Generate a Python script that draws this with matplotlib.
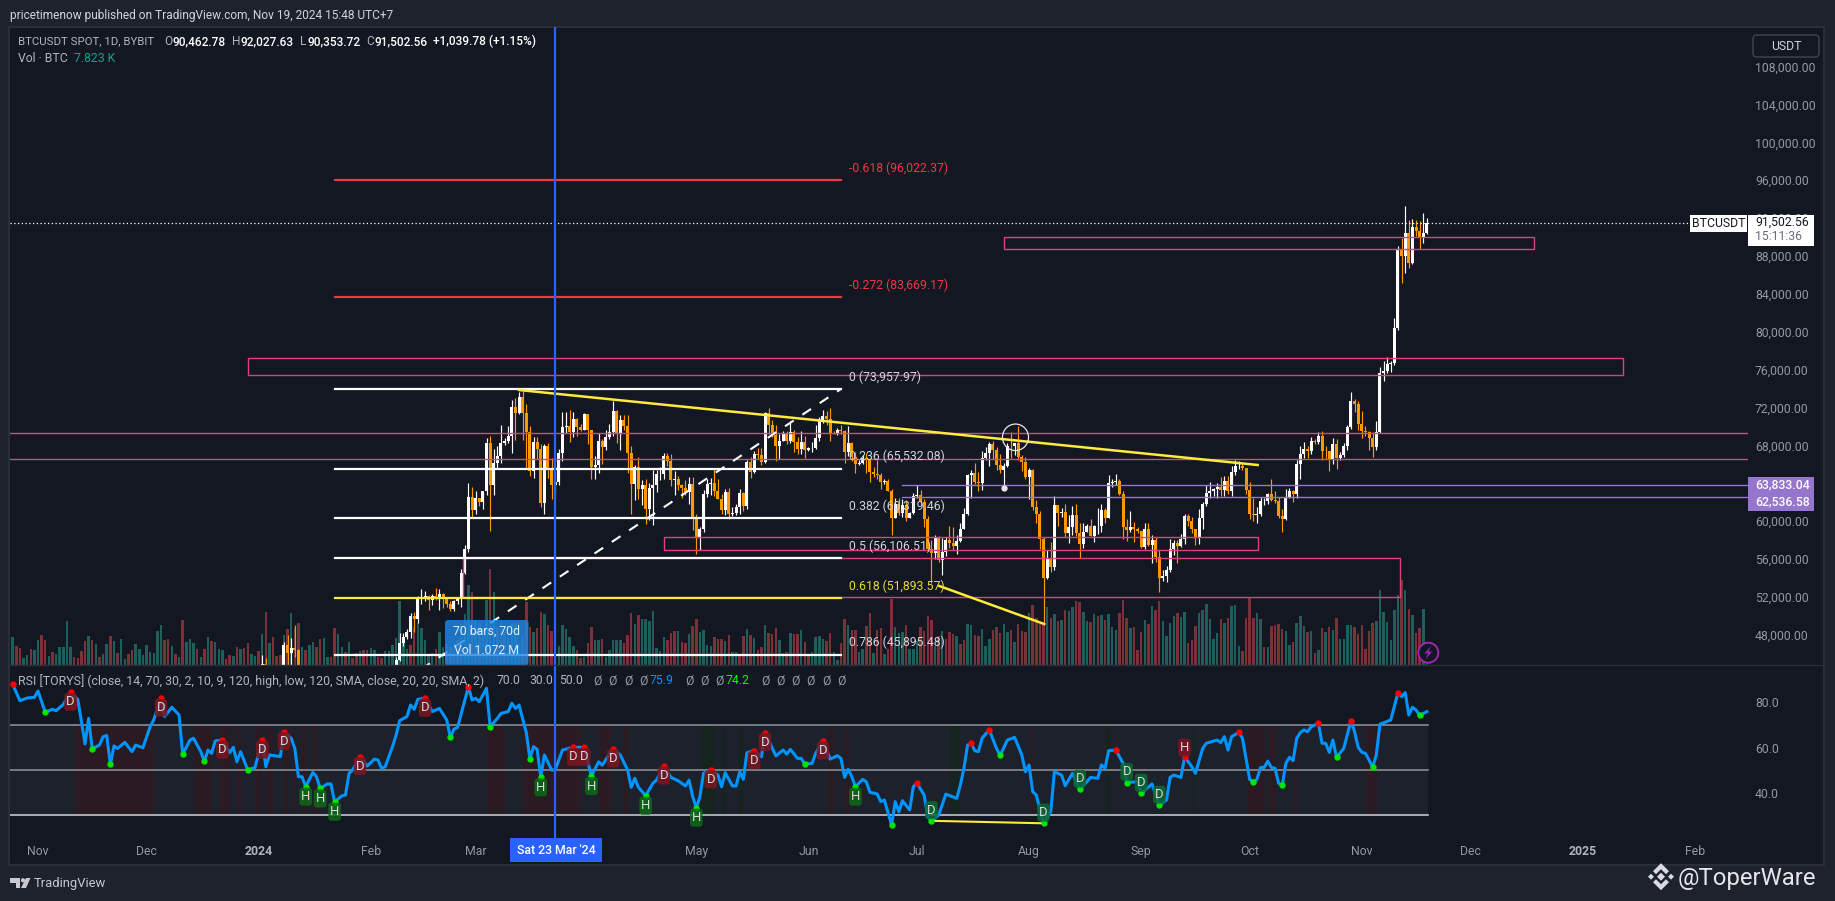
import matplotlib
matplotlib.use("Agg")
import numpy as np
import matplotlib.pyplot as plt
from matplotlib.patches import Rectangle, Ellipse, Circle, Polygon, FancyBboxPatch

W, H = 1835, 901

BG_OUT = '#1e222d'
BG = '#131722'
BORDER = '#2a2e39'
GREY = '#9598a1'
LIGHT = '#d1d4dc'
ORANGE = '#ff9800'
PINK = '#e0407a'
PINK2 = '#c9507c'
PURPLE = '#9575cd'
YELLOW = '#ffeb3b'

# days are counted from 1 Nov 2023
month_days = [0, 30, 61, 92, 121, 182, 213, 243, 274, 305, 335, 366, 396, 427, 458]
month_labels = ['Nov', 'Dec', '2024', 'Feb', 'Mar', 'May', 'Jun', 'Jul', 'Aug', 'Sep', 'Oct', 'Nov', 'Dec', '2025', 'Feb']
price_ticks = [48000, 52000, 56000, 60000, 68000, 72000, 76000, 80000, 84000, 88000, 92000, 96000, 100000, 104000, 108000]

# 2 Jan - 12 Jan 2024, only the tops stick out of the pane
jan_first_day = 62
jan_open = [44200, 44950, 42850, 44150, 44150, 43950, 43940, 46950, 46120, 46650, 46340]
jan_high = [45900, 45500, 44750, 44300, 44300, 44450, 47200, 47990, 47700, 49000, 46500]
jan_low = [44150, 40750, 42600, 42650, 43600, 43400, 43200, 44300, 44350, 45600, 41500]
jan_close = [44950, 42850, 44150, 44150, 43950, 43940, 46950, 46120, 46650, 46340, 42780]

# 8 Feb - 19 Nov 2024
first_day = 99
first_open = 44340
close = [
    45290, 47130, 47760, 48290, 49940, 49700, 51800, 51930, 52130, 51640, 52130, 51780, 52260, 51850, 51300, 50740,
    51570, 51730, 54480, 57040, 62500, 61170,
    62430, 62030, 63170, 68300, 63800, 66100, 66900, 68300, 68500, 69000, 72100, 71470, 73100, 71400, 69400, 65300,
    68400, 67600, 61900, 67900, 65500, 63800, 64100, 67200, 69950, 70000, 69450, 70780, 69900, 69650, 71300,
    69650, 65700, 65950, 68500, 67850, 68900, 69360, 71630, 69150, 70630, 70000, 67150, 63900, 65700, 63420, 63800,
    61280, 63470, 63820, 64940, 64940, 66840, 66400, 64300, 64500, 63780, 63460, 63120, 63870, 60320,
    58250, 59130, 62890, 63890, 64030, 63160, 62330, 61190, 63070, 60790, 60820, 61480, 62940, 61580, 66220, 65230,
    67050, 66940, 66270, 71450, 70140, 69120, 67930, 68510, 69290, 68510, 69390, 68360, 67630, 68350, 67490,
    67700, 67750, 68800, 70560, 71080, 70790, 69350, 69300, 69650, 69500, 67320, 68240, 66750, 66010, 66190, 66640,
    66490, 65150, 64960, 64830, 64100, 64250, 63180, 60280, 61800, 60860, 61670, 60310, 60900, 62670,
    62750, 62020, 60180, 57040, 56640, 58230, 55850, 56700, 58040, 57720, 57340, 57900, 59220, 60790, 64870, 65100,
    64090, 63980, 66700, 67150, 68160, 67560, 65930, 65370, 65780, 67910, 67900, 68250, 66800, 66200, 64620,
    65350, 61500, 60700, 58100, 53990, 56030, 55120, 61700, 60880, 60940, 58710, 59350, 60600, 58740, 57560, 58870,
    59490, 58440, 59480, 59490, 61170, 60380, 64050, 64160, 64220, 62830, 59420, 59030, 59370, 59120, 58970,
    57320, 59130, 57480, 57970, 56160, 53950, 54160, 54870, 57050, 57650, 57340, 58130, 60540, 60000, 59130, 58210,
    60310, 61760, 62950, 63200, 63350, 63580, 63330, 64260, 63140, 65180, 65780, 65860, 65600, 63330,
    60800, 60650, 60750, 62080, 62090, 62820, 62220, 62130, 60580, 60270, 62450, 63200, 62850, 66050, 67040, 67610,
    67370, 68420, 68360, 69000, 67370, 67360, 66430, 68170, 66640, 67010, 67930, 69910, 72730, 72340, 70290,
    69500, 69370, 68770, 67800, 69360, 75640, 75900, 76540, 76700, 80370, 88650, 87950, 90380, 87250, 91050, 90590,
    89850, 90460, 91502]
high = [
    45600, 48200, 48170, 48600, 50300, 50370, 52050, 52820, 52570, 52180, 52350, 52950, 52880, 52370, 52000, 51540,
    51700, 51950, 54900, 57500, 64000, 63650,
    63200, 62400, 63200, 68800, 69000, 67600, 67950, 70150, 68800, 70000, 72800, 73000, 73650, 73750, 72400, 70000,
    68900, 68900, 68100, 68100, 68200, 66700, 65900, 67600, 71500, 71500, 71700, 71500, 70900, 70300, 71400,
    71300, 69650, 66900, 69300, 68700, 69600, 70300, 72700, 71700, 71200, 71200, 71200, 67900, 65900, 66800, 64300,
    64500, 64000, 65400, 65400, 65700, 67200, 67200, 67100, 65300, 64800, 63900, 64300, 64700, 64700,
    60800, 59400, 63300, 64500, 64600, 65500, 64400, 62900, 63400, 63450, 61500, 61800, 63400, 63100, 66450, 66800,
    67400, 67700, 67700, 71500, 71950, 70650, 70200, 69200, 69500, 69500, 70600, 69600, 68900, 69500, 69000,
    67850, 68400, 70200, 71000, 71750, 71600, 71950, 69550, 69850, 70200, 69600, 70000, 68400, 67300, 66500, 66950,
    67200, 66600, 65700, 66500, 65100, 64500, 64500, 63400, 62400, 62450, 62300, 62200, 61000, 63000,
    63800, 63300, 62300, 60500, 58000, 58500, 58400, 58200, 58300, 59500, 59400, 58500, 59800, 61400, 65000, 65400,
    66100, 65200, 67400, 67800, 68400, 68500, 67800, 67100, 66100, 68300, 69400, 68300, 70000, 67000, 66800,
    65600, 65500, 62200, 61100, 58300, 57000, 57800, 62700, 61700, 61400, 61800, 60600, 61600, 61800, 59800, 59800,
    59700, 60200, 59600, 61400, 61800, 61400, 64900, 64500, 65000, 64500, 63200, 60200, 61100, 59900, 59400,
    59000, 59800, 59800, 58500, 58300, 56900, 54800, 55300, 58100, 58000, 58000, 58600, 60700, 60700, 60400, 59200,
    61300, 62000, 63800, 64100, 63500, 64000, 64700, 64800, 64800, 65800, 66500, 66300, 66100, 65600,
    64100, 62400, 61500, 62500, 62400, 63000, 64500, 63200, 62500, 61300, 63400, 63500, 63300, 66500, 67900, 68400,
    67900, 68900, 68700, 69400, 69500, 67900, 67400, 68800, 68700, 67300, 68300, 70200, 73600, 72900, 72700,
    71600, 70000, 69500, 69400, 70600, 76300, 76900, 77300, 76900, 81400, 89000, 89900, 93230, 91800, 91900, 91800,
    91700, 92500, 92030]
low = [
    44330, 45240, 46800, 47550, 47700, 48300, 49250, 51300, 51600, 50650, 51170, 51680, 50650, 50800, 50900, 50500,
    50550, 51300, 50900, 54450, 56700, 60400,
    60800, 61650, 61300, 62800, 59000, 62800, 65600, 66100, 68000, 68200, 67200, 68600, 71300, 68600, 65600, 64800,
    64550, 66550, 61500, 60800, 64600, 62300, 63000, 63800, 66400, 69300, 68400, 68900, 69000, 69500, 69600,
    68100, 64500, 64500, 65100, 66000, 67500, 68700, 69000, 68200, 67500, 69600, 65100, 60700, 62200, 62300, 61700,
    59700, 60100, 59600, 63100, 64300, 64500, 65800, 63700, 62800, 63300, 62400, 62800, 61800, 59100,
    56500, 56900, 58800, 62600, 62800, 62700, 62300, 60800, 60600, 60200, 60500, 60600, 60700, 61100, 61300, 64600,
    65100, 66600, 65900, 66100, 69200, 68900, 66300, 66600, 68500, 68100, 68200, 67300, 67100, 67100, 66700,
    67400, 67300, 67600, 68500, 70400, 70200, 68500, 69200, 69100, 69200, 66100, 66900, 66300, 65100, 65900, 66000,
    65100, 64100, 64700, 64500, 63400, 63900, 63200, 58500, 60300, 60600, 60400, 60000, 60300, 60700,
    62400, 61800, 59400, 56800, 53500, 56000, 55700, 54300, 56300, 57200, 56900, 56500, 57750, 59200, 60650, 62400,
    63900, 63200, 63300, 66500, 65800, 66600, 65400, 65100, 63400, 65700, 66700, 67000, 66500, 65300, 64500,
    62300, 61200, 59800, 57100, 49000, 53900, 54600, 54800, 59500, 60400, 58300, 57700, 58500, 58400, 56100, 57200,
    58800, 58400, 57800, 58600, 58800, 59800, 60300, 63600, 63800, 62800, 58100, 57900, 58800, 57800, 58700,
    57200, 57100, 57400, 55600, 55700, 52500, 53700, 53600, 54600, 56400, 55600, 57300, 57600, 59500, 58700, 57500,
    57600, 59200, 61600, 62400, 62700, 62400, 62700, 62700, 62900, 62700, 64900, 65500, 65400, 62900,
    60200, 60000, 59800, 60500, 61700, 61800, 62100, 61900, 60300, 58900, 60100, 62400, 62000, 62400, 64500, 66700,
    66700, 67100, 68100, 68100, 66500, 66600, 65300, 66000, 65500, 66500, 66800, 67500, 69700, 71500, 69600,
    68800, 69000, 67500, 66800, 67500, 69300, 74800, 75600, 75800, 76500, 80200, 85100, 86200, 86700, 87100, 90100,
    88700, 89400, 90350]

# volume heights, negative = down day
vol_first_day = -8
volumes = [
    140, 83, -57, -50, 20, 30, -47, 45, 75, -90, -75, 27, -38, 32, 54, 54, 132, 54, -24, -21, -42, -72, 87, -75, 63,
    -24, 33, 63, -87, 72, -36, 78, 18, -33, -45, 63, 48, 30, 60, 39, 36, 102, 120, -75, -78, 57, -33, 24, -135, 69,
    78, 66, -48, 24, -48, 84, -72, 69, 48, 45, -18, -30, 27, -54, 48, -51, -66, 33, 27, -42, 93, -159, 66, -84, -27,
    -30, 90, -108, 156, -111, -126, 54, -45, 60, 69, -54, -78, 81, 24, -24, -111, 93, 54, -39, 69, -21, -35, 42, -45,
    -45, 51, 45, -24, -21, 42, 42, 60, 80, 192, 75, 48, -60, -115, 125, 110, 75, 30, 35, -48, 100, 55, -63, -55, 65,
    -75, 125, 152, 240, -218, 135, -125, 110, 195, -287, 218, -115, 125, -100, 80, 125, 125, 70, -90, -190, -115, 100,
    -110, -160, 153, -120, -103, 40, 57, 120, 108, 85, 57, -45, -22, 25, -65, -114, 75, 74, -78, 25, 45, 75, 75, 75,
    -65, -90, -156, 123, -150, 138, 137, 131, 162, 52, 42, 83, -75, -96, -102, 102, -69, -66, 94, -117, -138, 99, 105,
    60, 57, -84, -78, -78, 72, -90, 39, 39, -33, -87, 108, -90, 81, -45, -53, 120, -96, -93, -111, 75, 36, -39, 96,
    -93, -93, 105, -69, -27, 39, 84, 87, 78, -72, -96, 39, 15, -65, -138, 120, -105, -105, 39, 48, -117, -156, 36,
    -105, -111, 33, -48, -198, 114, 96, 99, -120, 48, 48, 72, -115, -102, -147, -135, 57, -87, 102, -78, -99, -93, 87,
    -63, -75, 123, 120, -90, -87, 108, 57, 78, -105,
    -114, -96, 123, 99, -105, 69, -123, -102, -99, 156, -180, -141, -129, -125, 174, -141, 153, -132, 135, -165, 162,
    174, -192, -189, 159, 132, -129, 153, -147, 150, -135, 153, 114, 105, -156, -195, -141, 111, -114, -45, -99, 135,
    -123, 177, -165, -192, 132, 87, 126, 147, -156, 144, 159, -66, -75, -117, 156, 165, 183, 138, 78, 96, -138, 126,
    -141, 177, 180, 57, -42, -141, -201, -141, 156, 138, -54, 54, -117, -120, -123, -108, 102, 60, -69, 126, 147, 117,
    -99, 102, -36, 45, -111, 99, -114, 105, -141, 78, 78, 120, 120, -114, -93, -120, -48, -102, -126, 132, 225, 159,
    129, 75, 165, 210, -255, 225, -168, 150, -96, -111, 168, 55]

rsi_days = [
    -7, -5, -3, -1, 0, 2, 4, 5, 7, 9, 11, 13, 14, 15, 17, 18, 19, 20, 21, 22, 24, 26, 27, 29, 31, 32, 34, 35, 37, 39,
    40, 42, 43, 45, 46, 47, 48, 49, 51, 53, 54, 55, 56, 58, 60, 62, 63, 64, 67, 68, 70, 71, 72, 73, 74, 76, 77, 78,
    80, 81, 82, 84, 85, 86, 87, 89, 91, 93, 94, 95, 96, 98, 99, 100, 102, 103, 104, 105, 107, 109, 111, 113, 114, 115,
    116, 119, 120, 121, 122, 124, 125, 127, 128, 130, 131, 132, 133, 135, 136, 137, 138, 139, 140, 142, 143, 145, 148,
    151, 153, 155, 156, 159, 161, 163, 164, 165, 166, 168, 170, 171, 173, 175, 177, 179, 180, 181, 182, 183, 184, 186,
    188, 189, 190, 192, 193, 194, 195, 196, 198, 200, 201, 204, 206, 207, 208, 210, 211, 212, 214, 215, 217, 219, 221,
    222, 223, 224, 225, 226, 228, 229, 230, 232, 233, 234, 236, 237, 238, 239, 241, 242, 243, 245, 246, 247, 249, 251,
    254, 255, 256, 257, 258, 259, 260, 261, 263, 265, 266, 268, 270, 272, 273, 274, 275, 276, 278, 280, 281, 283, 284,
    286, 288, 290, 291, 293, 294, 295, 296, 298, 300, 301, 304, 305, 308, 310, 312, 313, 314, 316, 317, 319, 320, 322,
    323, 326, 327, 328, 329, 330, 332, 333, 335, 336, 337, 338, 339, 340, 341, 342, 343, 344, 345, 346, 347, 348, 349,
    350, 351, 352, 354, 355, 356, 357, 358, 359, 361, 363, 364, 365, 366, 367, 368, 369, 370, 371, 374, 376, 377, 378,
    379, 380, 381, 382, 384]
rsi_vals = [
    88.0, 80.7, 81.9, 82.2, 85.0, 75.6, 76.9, 76.3, 79.1, 84.4, 81.3, 61.6, 72.9, 59.4, 61.1, 64.8, 65.3, 52.6, 60.7,
    59.6, 62.3, 58.2, 61.1, 59.9, 69.2, 72.2, 81.8, 73.7, 77.8, 74.4, 57.0, 63.3, 64.1, 58.2, 53.9, 58.9, 57.4, 62.9,
    63.3, 57.7, 60.1, 53.7, 58.2, 50.1, 51.2, 63.3, 51.5, 56.7, 56.0, 67.0, 64.1, 59.6, 47.1, 47.1, 42.7, 49.0, 47.1,
    41.9, 43.9, 43.9, 36.0, 38.6, 39.0, 48.6, 50.1, 56.0, 51.8, 54.9, 54.5, 50.8, 51.5, 60.4, 65.5, 71.9, 73.7, 78.8,
    76.9, 81.3, 81.8, 75.9, 77.3, 72.2, 64.5, 68.1, 68.9, 86.9, 81.0, 81.8, 80.3, 86.2, 69.2, 72.9, 75.1, 75.9, 79.6,
    77.3, 78.8, 66.6, 54.9, 60.4, 59.2, 46.8, 56.7, 50.1, 50.1, 58.9, 60.1, 60.1, 47.4, 53.7, 52.2, 59.4, 56.7, 50.1,
    42.4, 46.4, 42.4, 38.7, 44.2, 45.6, 51.8, 46.8, 45.3, 43.0, 45.6, 38.3, 33.4, 38.3, 48.6, 50.1, 47.8, 42.7, 48.9,
    43.0, 43.0, 49.3, 45.9, 57.7, 58.6, 55.9, 66.6, 56.3, 58.9, 57.1, 59.2, 55.2, 55.2, 52.7, 53.0, 57.4, 62.9, 54.9,
    56.4, 55.2, 46.8, 50.4, 47.1, 42.7, 45.9, 44.9, 40.2, 39.5, 36.1, 36.8, 25.7, 36.1, 31.6, 36.5, 32.4, 42.7, 44.2,
    39.0, 29.4, 27.6, 30.1, 39.4, 37.5, 43.4, 50.8, 61.1, 61.9, 58.6, 58.2, 64.1, 67.8, 59.6, 56.5, 63.3, 64.5, 56.7,
    49.3, 52.3, 40.5, 39.0, 26.5, 31.6, 49.3, 47.8, 43.1, 48.6, 41.5, 44.9, 46.8, 46.4, 52.3, 50.8, 58.6, 58.9, 53.0,
    44.5, 44.9, 39.7, 43.9, 34.4, 36.8, 46.8, 47.8, 46.8, 56.0, 51.5, 48.6, 59.6, 61.9, 63.3, 62.2, 64.8, 58.9, 64.8,
    66.7, 64.1, 45.9, 44.9, 45.9, 51.2, 51.2, 54.0, 51.2, 50.8, 44.2, 43.3, 53.0, 55.7, 54.2, 64.1, 66.6, 67.8, 67.0,
    69.2, 70.7, 61.9, 61.9, 57.9, 63.3, 55.7, 59.6, 71.9, 67.0, 60.1, 57.9, 57.4, 54.5, 51.2, 56.7, 70.3, 72.2, 84.3,
    82.5, 84.3, 74.4, 77.8, 76.6, 74.2, 75.9]

red_dot_days = [-7, 9, 34, 51, 62, 68, 89, 107, 119, 148, 151, 159, 173, 186, 198, 201, 217, 243, 258, 263, 298, 317, 332, 354, 363, 376]
green_dot_days = [2, 15, 20, 40, 46, 58, 74, 78, 82, 114, 125, 136, 139, 153, 168, 182, 212, 226, 236, 247, 266, 278, 288, 301, 305, 310, 336, 344, 359, 369, 382]
bear_d_days = [9, 34, 51, 62, 68, 89, 107, 148, 151, 159, 173, 186, 198, 201, 217]
bear_h_days = [317]
bull_h_days = [74, 78, 82, 139, 153, 168, 182, 226]
bull_d_days = [247, 278, 288, 301, 305, 310]

red_stripes = [(10.3, 32), (43, 48), (50, 53), (55, 56), (60, 62), (63, 65), (68, 69), (70.6, 71.3), (73, 74), (76, 77),
               (124, 129), (134, 150), (155, 158.4), (162, 163), (218.3, 220), (223.2, 224.1), (274.3, 275),
               (334.4, 339.3), (340.2, 342.1), (347.3, 348), (367.2, 370.2)]
green_stripes = [(183.3, 187.1), (189, 190), (193.7, 195), (252.2, 255), (295.4, 296.5), (319.4, 320)]

fib_start, fib_end = 82, 222
fib_levels = [96022.37, 83669.17, 73957.97, 65532.08, 60319.46, 56106.51, 51893.57, 45895.48]
fib_labels = ['-0.618 (96,022.37)', '-0.272 (83,669.17)', '0 (73,957.97)', '0.236 (65,532.08)', '0.382 (60,319.46)',
              '0.5 (56,106.51)', '0.618 (51,893.57)', '0.786 (45,895.48)']
fib_colors = ['#f23645', '#f23645', '#ffffff', '#ffffff', '#ffffff', '#ffffff', YELLOW, '#ffffff']
fib_text_colors = ['#f23645', '#f23645', LIGHT, LIGHT, LIGHT, LIGHT, '#e8d93a', LIGHT]
fib_one = 38252.0

# left day, right day, top price, bottom price
boxes = [(267, 413.6, 89971, 88704), (58, 438.3, 77194, 75399), (173.2, 337.4, 58292, 56919), (117.4, 376.5, 56074, 52019)]
zone_prices = [69275, 66529]
purple_prices = [63833.04, 62536.58]
purple_start = 239
cursor_day = 143
last_price = 91502.56

plt.rcParams['font.family'] = ['Roboto', 'DejaVu Sans']

fig = plt.figure(figsize=(W / 100, H / 100), dpi=100, facecolor=BG_OUT)


def pane(x0, y0, x1, y1, **kw):
    return fig.add_axes([x0 / W, 1 - y1 / H, (x1 - x0) / W, (y1 - y0) / H], **kw)


def day_of(px):
    return (px - 38) / 3.617


def price_of(py):
    return 96022 - (py - 180) / 0.00947


# background panel
under = pane(0, 0, W, H, zorder=-1)
under.set_xlim(0, W)
under.set_ylim(H, 0)
under.axis('off')
under.add_patch(Rectangle((9, 27), 1815, 838, fc=BG, ec=BORDER, lw=1.5))

ax = pane(10, 27, 1748, 665, zorder=1, facecolor='none')
ax.set_xlim(day_of(10), day_of(1748))
ax.set_ylim(price_of(665), price_of(27))
ax.set_xticks([])
for s in ax.spines.values():
    s.set_visible(False)

# volume shares the price pane
ax_vol = ax.twinx()
ax_vol.set_ylim(0, 638 * 3)
ax_vol.axis('off')
ax_vol.set_zorder(0)
ax.set_zorder(1)
ax.patch.set_visible(False)
vol = np.array(volumes)
vol_x = np.arange(len(vol)) + vol_first_day
ax_vol.bar(vol_x, np.abs(vol), width=0.68, color=np.where(vol > 0, '#1f5f5b', '#7a3238'), linewidth=0)

ax.yaxis.tick_right()
ax.set_yticks(price_ticks)
ax.set_yticklabels(['{:,.2f}'.format(p) for p in price_ticks])
ax.tick_params(axis='y', length=0, pad=5, labelsize=8.8, labelcolor=GREY)

# candles
close = np.array(close, dtype=float)
open_ = np.concatenate([[first_open], close[:-1]])
high = np.array(high, dtype=float)
low = np.array(low, dtype=float)
cx = np.arange(len(close)) + first_day
all_x = np.concatenate([np.arange(len(jan_close)) + jan_first_day, cx])
all_o = np.concatenate([jan_open, open_])
all_c = np.concatenate([jan_close, close])
all_h = np.concatenate([jan_high, high])
all_l = np.concatenate([jan_low, low])
cols = np.where(all_c >= all_o, '#ffffff', ORANGE)
ax.vlines(all_x, all_l, all_h, colors=cols, lw=0.85, zorder=2)
ax.bar(all_x, np.abs(all_c - all_o), bottom=np.minimum(all_c, all_o), width=0.83, color=cols, linewidth=0, zorder=2.1)

# zones and boxes
for d0, d1, t, b in boxes:
    ax.add_patch(Rectangle((d0, b), d1 - d0, t - b, fc='none', ec=PINK, lw=1.0, zorder=2.5))
for p in zone_prices:
    ax.plot([day_of(10), day_of(1748)], [p, p], color=PINK2, lw=1.0, zorder=2.5)
for p in purple_prices:
    ax.plot([purple_start, day_of(1748)], [p, p], color=PURPLE, lw=1.0, zorder=2.5)

# fib retracement
ax.plot([fib_start, fib_end], [fib_one, fib_levels[2]], color='#ffffff', lw=1.5, ls=(0, (5, 5)), zorder=3)
for p, lab, c, tc in zip(fib_levels, fib_labels, fib_colors, fib_text_colors):
    ax.plot([fib_start, fib_end], [p, p], color=c, lw=1.6, zorder=3)
    ax.annotate(lab, (fib_end, p), xytext=(5.5, 8.6), textcoords='offset points', color=tc, fontsize=8.8, va='center', zorder=4)

# trend lines
ax.plot([133, 337.2], [73847, 65927], color=YELLOW, lw=1.8, zorder=3.5)
ax.plot([249.2, 278.2], [53150, 49136], color=YELLOW, lw=1.8, zorder=3.5)
ax.add_patch(Ellipse((270.25, 68852), 7.2, 2800, fc='none', ec='#e8e8e8', lw=0.9, zorder=3.6))
ax.plot([267], [63466], 'o', color='#e8e8e8', ms=3.5, zorder=3.6)

ax.plot([day_of(10), day_of(1690)], [last_price, last_price], color='#ffffff', lw=0.9, ls=(0, (1, 2)), zorder=3)
ax.axvline(cursor_day, color='#2962ff', lw=1.6, zorder=5)

# RSI pane
ax_r = pane(10, 665, 1748, 838, zorder=2, facecolor='none')
ax_r.set_xlim(day_of(10), day_of(1748))
ax_r.set_ylim(20.0, 96.5)
for s in ax_r.spines.values():
    s.set_visible(False)
ax_r.yaxis.tick_right()
ax_r.set_yticks([40, 60, 80])
ax_r.set_yticklabels(['40.0', '60.0', '80.0'])
ax_r.set_xticks(month_days)
ax_r.set_xticklabels(month_labels)
ax_r.tick_params(axis='y', length=0, pad=5, labelsize=8.8, labelcolor=GREY)
ax_r.tick_params(axis='x', length=0, pad=5, labelsize=8.8, labelcolor=GREY)
for t in ax_r.get_xticklabels():
    if t.get_text() in ('2024', '2025'):
        t.set_color('#b2b5be')
        t.set_fontweight('bold')

band_x = [day_of(10), 384.3]
ax_r.fill_between(band_x, 30, 70, color='#1d212c', lw=0, zorder=1)
for a, b in red_stripes:
    ax_r.fill_between([a, b], 30, 70, color='#2a1a22', lw=0, zorder=1.1)
for a, b in green_stripes:
    ax_r.fill_between([a, b], 30, 70, color='#16241f', lw=0, zorder=1.1)
for lv, c in ((70, '#8a8c92'), (50, '#8a8c92'), (30, '#c4c6cc')):
    ax_r.plot(band_x, [lv, lv], color=c, lw=1.2, zorder=1.2)

ax_r.plot(rsi_days, rsi_vals, color='#0094ff', lw=2.2, solid_joinstyle='round', zorder=3)
rsi_at = dict(zip(rsi_days, rsi_vals))
ax_r.plot(red_dot_days, [rsi_at[d] for d in red_dot_days], 'o', color='#ff0000', ms=3.6, zorder=4)
ax_r.plot(green_dot_days, [rsi_at[d] for d in green_dot_days], 'o', color='#00e600', ms=3.6, zorder=4)
ax_r.plot([247, 278], [rsi_at[247], rsi_at[278]], color=YELLOW, lw=1.5, zorder=3.5)
ax_r.axvline(cursor_day, color='#2962ff', lw=1.6, zorder=5)

# chrome on top, in pixels
top = pane(0, 0, W, H, zorder=10, facecolor='none')
top.set_xlim(0, W)
top.set_ylim(H, 0)
top.axis('off')


def txt(x, y, s, c=LIGHT, size=8.8, **kw):
    kw.setdefault('va', 'center')
    top.text(x, y, s, color=c, fontsize=size, **kw)


def tag(days, label, fc, dy):
    # dy is pixels below the dot
    for d in days:
        px, py = ax_r.transData.transform((d, rsi_at[d]))
        py = H - py + dy
        top.add_patch(FancyBboxPatch((px - 6.3, py - 9), 12.6, 18, boxstyle='round,pad=0,rounding_size=3',
                                     fc=fc, ec='none', alpha=0.85))
        top.text(px, py, label, color='#d8d8d8', fontsize=9.4, ha='center', va='center')


tag(bear_d_days, 'D', '#7b1620', 9.5)
tag(bear_h_days, 'H', '#7b1620', -9)
tag(bull_h_days, 'H', '#0d6a16', 10)
tag(bull_d_days, 'D', '#0b6b33', -10.7)

txt(10, 15, 'pricetimenow published on TradingView.com, Nov 19, 2024 15:48 UTC+7', LIGHT, 8.6)
txt(18, 41.7, 'BTCUSDT SPOT, 1D, BYBIT', '#b2b5be', 8.2)
for x, s, c, w in ((164, 'O', '#b2b5be', 'normal'), (172, '90,462.78', '#ffffff', 'medium'),
                   (232, 'H', '#b2b5be', 'normal'), (240, '92,027.63', '#ffffff', 'medium'),
                   (300, 'L', '#b2b5be', 'normal'), (307, '90,353.72', '#ffffff', 'medium'),
                   (366, 'C', '#b2b5be', 'normal'), (374, '91,502.56', '#ffffff', 'medium'),
                   (433, '+1,039.78 (+1.15%)', '#ffffff', 'medium')):
    txt(x, 41.7, s, c, 8.6, fontweight=w)
txt(18, 58.7, 'Vol · BTC', '#b2b5be')
txt(74, 58.7, '7.823 K', '#1f9d8f')

txt(18, 681, 'RSI [TORYS] (close, 14, 70, 30, 2, 10, 9, 120, high, low, 120, SMA, close, 20, 20, SMA, 2)', '#b2b5be', 8.95)
for x, s in ((497, '70.0'), (529, '30.0'), (559, '50.0')):
    txt(x, 681, s, '#b2b5be')
for x in (593, 608, 624, 639, 685, 700, 715, 761, 776, 791, 806, 822, 837):
    txt(x, 681, 'Ø', GREY)
txt(650, 681, '75.9', '#0094ff')
txt(726, 681, '74.2', '#00ff00')

# USDT button
top.add_patch(FancyBboxPatch((1753, 35), 66, 22, boxstyle='round,pad=0,rounding_size=4', fc=BG, ec='#434651', lw=1))
txt(1786, 46, 'USDT', LIGHT, ha='center')

# last price tags
top.add_patch(Rectangle((1690, 215), 57, 16.7, fc='#ffffff', ec='none'))
txt(1718.5, 223.5, 'BTCUSDT', '#131722', ha='center')
top.add_patch(Rectangle((1748, 215), 65.6, 30.7, fc='#ffffff', ec='none'))
txt(1755, 222.5, '91,502.56', '#131722')
txt(1755, 237, '15:11:36', '#6a6d78')

# purple tags
top.add_patch(Rectangle((1748, 476.7), 65.6, 34, fc=PURPLE, ec='none'))
txt(1755, 485, '63,833.04', '#ffffff', fontweight='medium')
txt(1755, 502, '62,536.58', '#ffffff', fontweight='medium')

# measure tooltip
top.add_patch(FancyBboxPatch((445, 620), 83.5, 45, boxstyle='round,pad=0,rounding_size=3', fc='#1e88e5', ec='none', alpha=0.82))
txt(486.7, 631, '70 bars, 70d', '#e8eef5', ha='center')
txt(486.7, 651, 'Vol 1.072 M', '#e8eef5', ha='center')

# cursor date
top.add_patch(Rectangle((510, 838), 92, 23.7, fc='#2962ff', ec='none'))
txt(556, 850, "Sat 23 Mar '24", '#ffffff', ha='center', fontweight='medium')

# lightning button
top.add_patch(Circle((1428.3, 652.7), 10, fc=BG, ec='#9c27b0', lw=1.4))
top.add_patch(Polygon([(1431, 646), (1424.5, 653.5), (1428, 653.5), (1425.5, 659.5), (1432, 651.5), (1428.5, 651.5)], fc='#9c27b0', ec='none'))

top.plot([10, 1824], [665, 665], color=BORDER, lw=1)

# footer: logo
top.add_patch(Polygon([(10, 878), (20, 878), (20, 888), (15.5, 888), (15.5, 882.5), (10, 882.5)], fc='#c8cad0', ec='none'))
top.add_patch(Circle((23, 880.3), 2.1, fc='#c8cad0', ec='none'))
top.add_patch(Polygon([(26, 878), (30.5, 878), (26, 888), (21, 888)], fc='#c8cad0', ec='none'))
txt(33.5, 883, 'TradingView', '#c8cad0', 9.4)

# watermark
ic = '#d9dbe0'
cx0, cy0 = 1661, 876.7
top.add_patch(Polygon([(cx0, cy0 - 4), (cx0 + 4, cy0), (cx0, cy0 + 4), (cx0 - 4, cy0)], fc=ic, ec='none'))
top.add_patch(Polygon([(cx0 - 13, cy0), (cx0 - 10, cy0 - 3), (cx0 - 7, cy0), (cx0 - 10, cy0 + 3)], fc=ic, ec='none'))
top.add_patch(Polygon([(cx0 + 13, cy0), (cx0 + 10, cy0 - 3), (cx0 + 7, cy0), (cx0 + 10, cy0 + 3)], fc=ic, ec='none'))
top.add_patch(Polygon([(cx0, cy0 - 13.5), (cx0 + 8, cy0 - 5.5), (cx0 + 5, cy0 - 2.5), (cx0, cy0 - 7.5), (cx0 - 5, cy0 - 2.5), (cx0 - 8, cy0 - 5.5)], fc=ic, ec='none'))
top.add_patch(Polygon([(cx0, cy0 + 13.5), (cx0 + 8, cy0 + 5.5), (cx0 + 5, cy0 + 2.5), (cx0, cy0 + 7.5), (cx0 - 5, cy0 + 2.5), (cx0 - 8, cy0 + 5.5)], fc=ic, ec='none'))
txt(1677.5, 878, '@ToperWare', '#e6e7ea', 17.2)

fig.savefig('out.png', dpi=100, facecolor=BG_OUT)
plt.close()
